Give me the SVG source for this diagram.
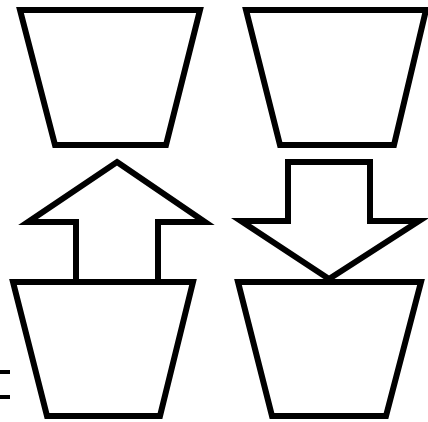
<svg xmlns="http://www.w3.org/2000/svg" width="428" height="422" viewBox="0 0 428 422">
<style>
.s{fill:#fff;stroke:#000;stroke-width:6;stroke-linejoin:miter;stroke-miterlimit:10}
</style>
<rect width="428" height="422" fill="#fff"/>
<g id="connectors">
<polygon id="arrow-up" class="s" points="117,162 205,222 158,222 158,282 76,282 76,222 28,222"/>
<polygon id="arrow-down" class="s" points="288,162 370,162 370,221 419,221 329,279 241,221 288,221"/>
</g>
<g id="trap-top-left"><polygon class="s" points="20,10 200,10 166,145 55,145"/></g>
<g id="trap-top-right"><polygon class="s" points="246,10 426,10 394,145 280,145"/></g>
<g id="trap-bottom-left"><polygon class="s" points="13,282 193,282 160,416 47,416"/></g>
<g id="trap-bottom-right"><polygon class="s" points="238,282 421,282 386,416 272,416"/></g>
<g id="marks"><rect x="0" y="370" width="10" height="4"/><rect x="0" y="395" width="10" height="4"/></g>
</svg>
